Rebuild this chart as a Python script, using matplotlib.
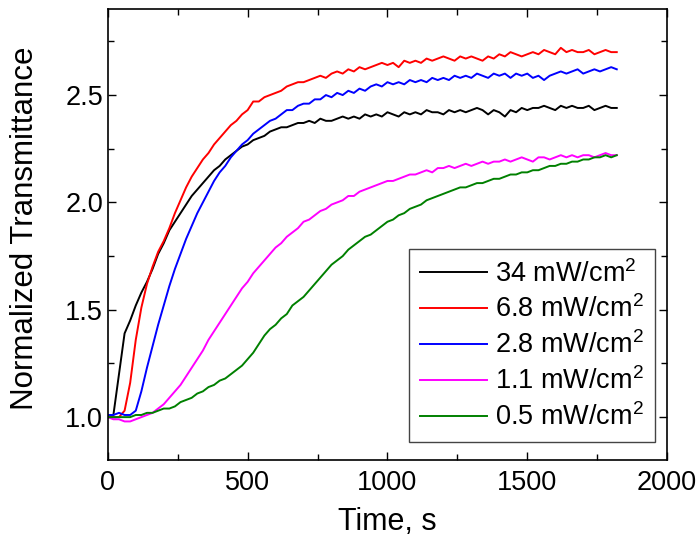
import numpy as np
import matplotlib
matplotlib.use('Agg')
import matplotlib.pyplot as plt
from matplotlib.ticker import MultipleLocator

plt.rcParams['font.family'] = ['Liberation Sans', 'DejaVu Sans']
plt.rcParams['mathtext.fontset'] = 'custom'
plt.rcParams['mathtext.rm'] = 'Liberation Sans'
plt.rcParams['mathtext.it'] = 'Liberation Sans'

# sampling times (s)
time = list(range(0, 1821, 20))

t_34 = [1.00, 1.01, 1.20, 1.39, 1.45, 1.52, 1.58, 1.63, 1.69, 1.76,
        1.81, 1.87, 1.91, 1.95, 1.99, 2.03, 2.06, 2.09, 2.12, 2.15,
        2.17, 2.20, 2.22, 2.24, 2.26, 2.27, 2.29, 2.30, 2.31, 2.33,
        2.34, 2.35, 2.35, 2.36, 2.37, 2.37, 2.38, 2.37, 2.39, 2.38,
        2.38, 2.39, 2.40, 2.39, 2.40, 2.39, 2.41, 2.40, 2.41, 2.40,
        2.42, 2.41, 2.40, 2.42, 2.41, 2.42, 2.41, 2.43, 2.42, 2.42,
        2.41, 2.43, 2.42, 2.43, 2.42, 2.43, 2.44, 2.43, 2.41, 2.43,
        2.42, 2.40, 2.43, 2.42, 2.44, 2.43, 2.44, 2.44, 2.45, 2.44,
        2.43, 2.45, 2.44, 2.45, 2.44, 2.44, 2.45, 2.43, 2.44, 2.45,
        2.44, 2.44]

t_68 = [1.00, 1.00, 1.00, 1.03, 1.16, 1.36, 1.51, 1.62, 1.70, 1.77,
        1.82, 1.88, 1.95, 2.01, 2.07, 2.12, 2.16, 2.20, 2.23, 2.27,
        2.30, 2.33, 2.36, 2.38, 2.41, 2.43, 2.47, 2.47, 2.49, 2.50,
        2.51, 2.52, 2.54, 2.55, 2.56, 2.56, 2.57, 2.58, 2.59, 2.58,
        2.60, 2.61, 2.60, 2.62, 2.61, 2.63, 2.62, 2.63, 2.64, 2.65,
        2.64, 2.65, 2.63, 2.66, 2.65, 2.66, 2.65, 2.67, 2.66, 2.67,
        2.68, 2.67, 2.66, 2.68, 2.67, 2.68, 2.67, 2.66, 2.68, 2.67,
        2.69, 2.68, 2.70, 2.69, 2.68, 2.69, 2.70, 2.69, 2.71, 2.70,
        2.69, 2.72, 2.70, 2.71, 2.70, 2.70, 2.71, 2.69, 2.70, 2.71,
        2.70, 2.70]

t_28 = [1.01, 1.01, 1.02, 1.01, 1.01, 1.03, 1.12, 1.23, 1.33, 1.43,
        1.52, 1.61, 1.69, 1.76, 1.83, 1.89, 1.95, 2.00, 2.05, 2.10,
        2.14, 2.17, 2.21, 2.24, 2.27, 2.29, 2.32, 2.34, 2.36, 2.38,
        2.39, 2.41, 2.43, 2.43, 2.45, 2.46, 2.46, 2.48, 2.48, 2.50,
        2.49, 2.51, 2.50, 2.52, 2.51, 2.53, 2.52, 2.54, 2.55, 2.54,
        2.56, 2.55, 2.56, 2.55, 2.57, 2.56, 2.57, 2.56, 2.58, 2.57,
        2.58, 2.57, 2.59, 2.58, 2.59, 2.58, 2.60, 2.59, 2.58, 2.60,
        2.59, 2.60, 2.58, 2.60, 2.59, 2.60, 2.58, 2.59, 2.57, 2.59,
        2.60, 2.61, 2.60, 2.61, 2.62, 2.60, 2.61, 2.62, 2.61, 2.62,
        2.63, 2.62]

t_11 = [1.00, 0.99, 0.99, 0.98, 0.98, 0.99, 1.00, 1.01, 1.02, 1.04,
        1.06, 1.09, 1.12, 1.15, 1.19, 1.23, 1.27, 1.31, 1.36, 1.40,
        1.44, 1.48, 1.52, 1.56, 1.60, 1.63, 1.67, 1.70, 1.73, 1.76,
        1.79, 1.81, 1.84, 1.86, 1.88, 1.91, 1.92, 1.94, 1.96, 1.97,
        1.99, 2.00, 2.01, 2.03, 2.03, 2.05, 2.06, 2.07, 2.08, 2.09,
        2.10, 2.10, 2.11, 2.12, 2.13, 2.13, 2.14, 2.15, 2.14, 2.16,
        2.16, 2.17, 2.16, 2.17, 2.18, 2.17, 2.18, 2.19, 2.18, 2.19,
        2.19, 2.20, 2.19, 2.20, 2.21, 2.20, 2.19, 2.21, 2.21, 2.20,
        2.21, 2.22, 2.21, 2.22, 2.21, 2.22, 2.22, 2.21, 2.22, 2.23,
        2.22, 2.22]

t_05 = [1.00, 1.00, 1.00, 1.00, 1.00, 1.01, 1.01, 1.02, 1.02, 1.03,
        1.04, 1.04, 1.05, 1.07, 1.08, 1.09, 1.11, 1.12, 1.14, 1.15,
        1.17, 1.18, 1.20, 1.22, 1.24, 1.27, 1.30, 1.34, 1.38, 1.41,
        1.43, 1.46, 1.48, 1.52, 1.54, 1.56, 1.59, 1.62, 1.65, 1.68,
        1.71, 1.73, 1.75, 1.78, 1.80, 1.82, 1.84, 1.85, 1.87, 1.89,
        1.91, 1.92, 1.94, 1.95, 1.97, 1.98, 1.99, 2.01, 2.02, 2.03,
        2.04, 2.05, 2.06, 2.07, 2.07, 2.08, 2.09, 2.09, 2.10, 2.11,
        2.11, 2.12, 2.13, 2.13, 2.14, 2.14, 2.15, 2.15, 2.16, 2.17,
        2.17, 2.18, 2.18, 2.19, 2.19, 2.20, 2.20, 2.21, 2.21, 2.22,
        2.21, 2.22]

labels = ['34 mW/cm$^2$', '6.8 mW/cm$^2$', '2.8 mW/cm$^2$',
          '1.1 mW/cm$^2$', '0.5 mW/cm$^2$']
colors = ['black', 'red', 'blue', 'magenta', 'green']

fig = plt.figure(figsize=(7, 5.4), dpi=100)
ax = fig.add_axes([0.154, 0.148, 0.799, 0.835])

for y, lab, c in zip([t_34, t_68, t_28, t_11, t_05], labels, colors):
    ax.plot(time, y, color=c, lw=1.4, label=lab)

ax.set_xlim(0, 2000)
ax.set_ylim(0.8, 2.9)
ax.xaxis.set_major_locator(MultipleLocator(500))
ax.xaxis.set_minor_locator(MultipleLocator(250))
ax.yaxis.set_major_locator(MultipleLocator(0.5))
ax.yaxis.set_minor_locator(MultipleLocator(0.25))
ax.yaxis.set_major_formatter(plt.FormatStrFormatter('%.1f'))
ax.tick_params(which='both', direction='in', top=True, right=True,
               labelsize=19.5, width=1)
ax.tick_params(which='major', length=6)
ax.tick_params(which='minor', length=4)
ax.tick_params(axis='x', pad=7)
for s in ax.spines.values():
    s.set_linewidth(1.2)

ax.set_xlabel('Time, s', fontsize=22, labelpad=8)
ax.set_ylabel('Normalized Transmittance', fontsize=22.5)
ax.yaxis.set_label_coords(-0.122, 0.514)

leg = ax.legend(loc='lower right', bbox_to_anchor=(0.979, 0.04),
                borderaxespad=0, fontsize=19.5, fancybox=False,
                edgecolor='#444444', framealpha=1, handlelength=2.5,
                handletextpad=0.3, labelspacing=0.3, borderpad=0.4)
leg.get_frame().set_linewidth(1.0)

fig.savefig('out.png', dpi=100)
